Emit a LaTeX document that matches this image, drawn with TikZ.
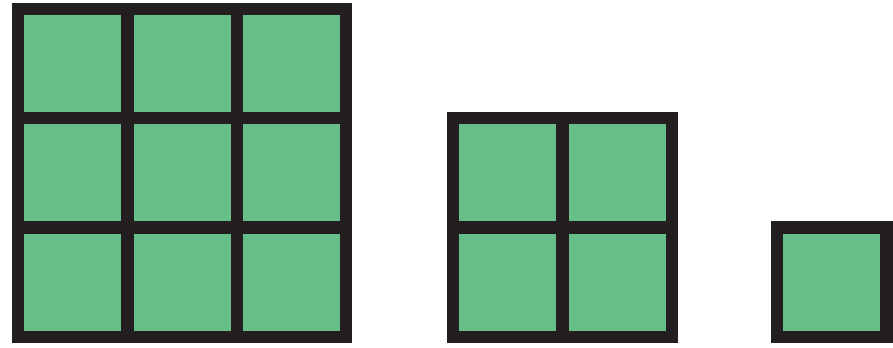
\documentclass[tikz,border=0pt]{standalone}
\usepackage{xcolor}
\definecolor{framecolor}{HTML}{231F20}
\definecolor{tilecolor}{HTML}{66BF88}

\begin{document}
\begin{tikzpicture}[x=0.02cm, y=0.02cm]

  \useasboundingbox (0,0) rectangle (893,348);

  % Large square (3 x 3 tiles)
  \fill[framecolor] (12,5) rectangle ++(340.2,340.2);
  \foreach \i in {0,1,2}
    \foreach \j in {0,1,2}
      \fill[tilecolor] ({24.3+109.3*\i},{17.3+109.3*\j}) rectangle ++(97,97);

  % Middle square (2 x 2 tiles)
  \fill[framecolor] (447,5) rectangle ++(230.9,230.9);
  \foreach \i in {0,1}
    \foreach \j in {0,1}
      \fill[tilecolor] ({459.3+109.3*\i},{17.3+109.3*\j}) rectangle ++(97,97);

  % Small square (1 tile)
  \fill[framecolor] (771,5) rectangle ++(121.6,121.6);
  \fill[tilecolor] (783.3,17.3) rectangle ++(97,97);

\end{tikzpicture}
\end{document}
